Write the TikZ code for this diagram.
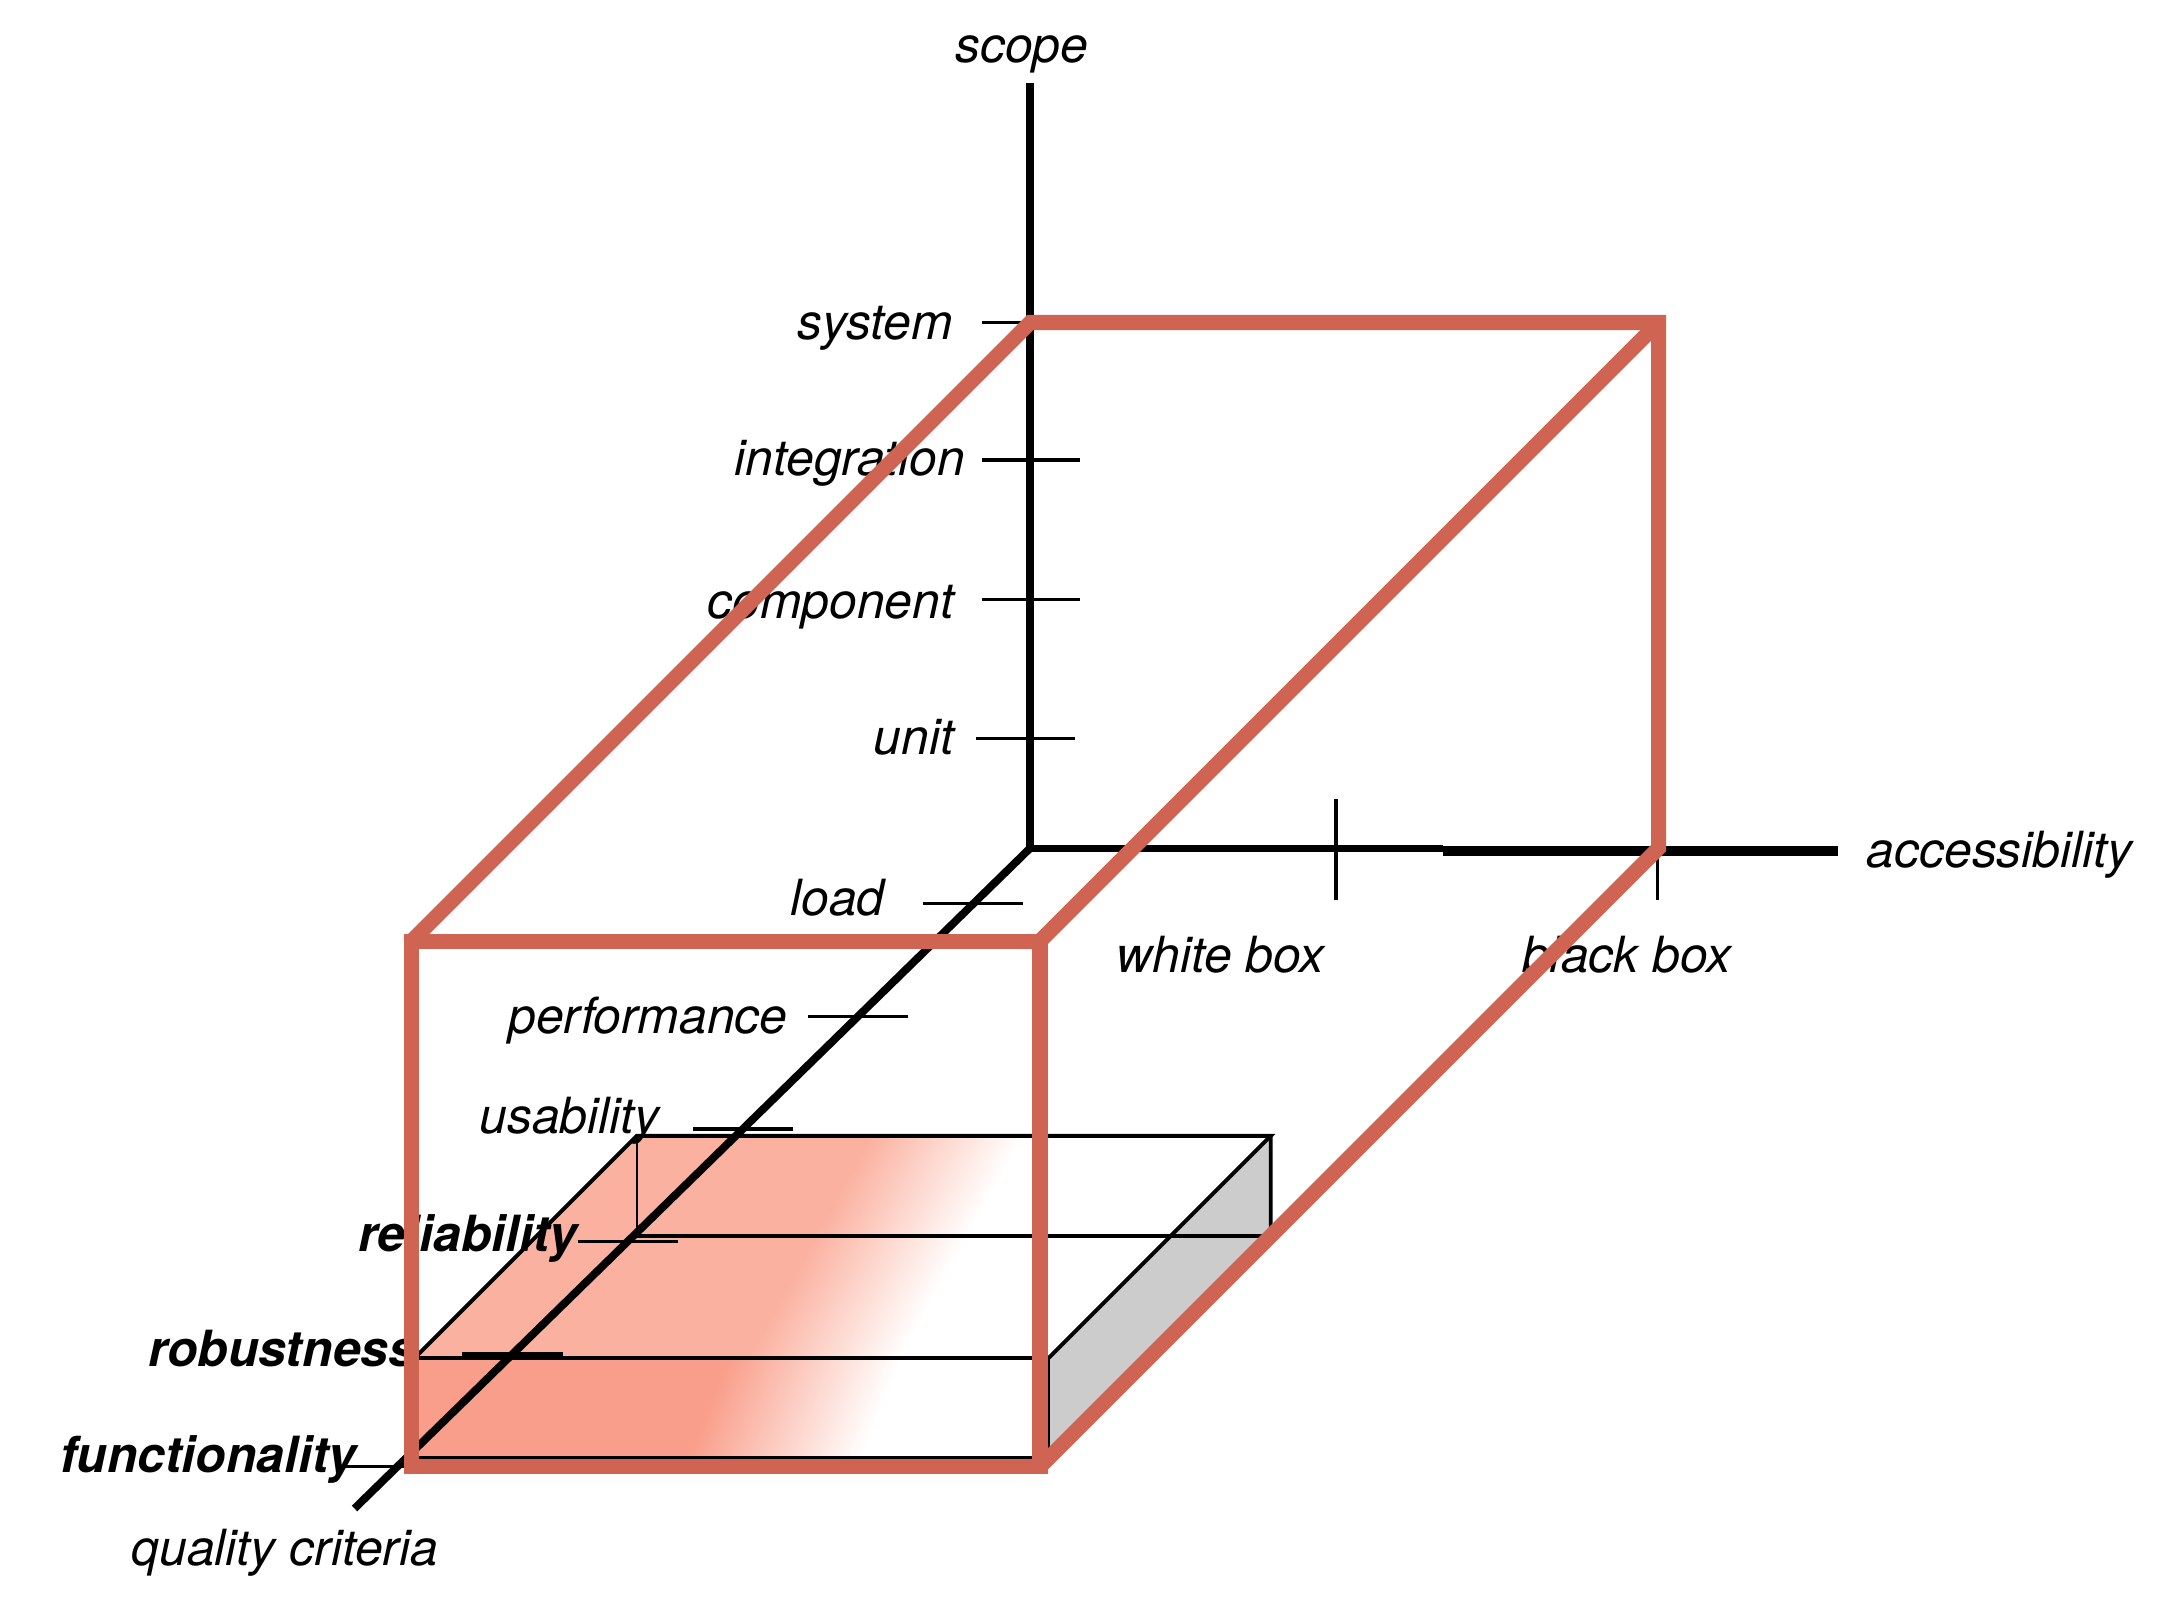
\documentclass[tikz,border=0pt]{standalone}
\usepackage{fontspec}
\setmainfont{TeX Gyre Heros}

\definecolor{cubered}{RGB}{208,100,82}
\definecolor{slabfront}{RGB}{249,158,138}
\definecolor{slabtop}{RGB}{251,177,160}
\definecolor{slabside}{RGB}{204,204,204}

\pgfdeclarehorizontalshading{frontfade}{100bp}{color(0bp)=(slabfront); color(47.1bp)=(slabfront); color(52.9bp)=(white); color(100bp)=(white)}
\pgfdeclarehorizontalshading{topfade}{100bp}{color(0bp)=(slabtop); color(47.6bp)=(slabtop); color(52.4bp)=(white); color(100bp)=(white)}

\tikzset{
  lbl/.style={font=\fontsize{10.2}{12}\selectfont\itshape, inner sep=0pt},
  boldlbl/.style={font=\fontsize{10.2}{12}\selectfont\bfseries\itshape, inner sep=0pt},
  axisline/.style={line width=1.6pt},
  tickline/.style={line width=0.7pt},
  slabedge/.style={line width=0.8pt},
  cubeedge/.style={draw=cubered, line width=3.1pt},
}

\begin{document}
\begin{tikzpicture}
\useasboundingbox (-7.41,-5.48) rectangle (8.27,6.10);

% axes
\coordinate (O) at (0,0);
\coordinate (scopeend) at (0,5.5);
\coordinate (accstep) at (2.97,0);
\coordinate (accstepb) at (2.97,-0.02);
\coordinate (accend) at (5.81,-0.02);
\coordinate (qualend) at (-4.86,-4.75);

% slab corners
\coordinate (s1) at (-4.43,-4.39);
\coordinate (s2) at (0.13,-4.39);
\coordinate (s3) at (0.13,-3.67);
\coordinate (s4) at (-4.43,-3.67);
\coordinate (s5) at (-2.83,-2.79);
\coordinate (s6) at (1.73,-2.79);
\coordinate (s7) at (1.73,-2.07);
\coordinate (s8) at (-2.83,-2.07);

% slab faces
\begin{scope}
  \clip (s4) -- (s8) -- (s7) -- (s3) -- cycle;
  \shade[shading=topfade, shading angle=-29] (-6.04,-7.87) rectangle (3.96,2.13);
\end{scope}
\begin{scope}
  \clip (s1) rectangle (s3);
  \shade[shading=frontfade, shading angle=-22] (-6.70,-9.03) rectangle (3.30,0.97);
\end{scope}
\fill[slabside] (s3) -- (s7) -- (s6) -- (s2) -- cycle;

\draw[slabedge] (s1) -- (s2) -- (s3) -- (s4) -- cycle;
\draw[slabedge] (s4) -- (s8) -- (s7) -- (s3);
\draw[slabedge] (s7) -- (s6) -- (s2);
\draw[slabedge] (s5) -- (s6);
\draw[line width=0.5pt] (s8) -- (s5);

% axes
\draw[axisline] (O) -- (scopeend);
\draw[line width=1.4pt] (O) -- (accstep);
\draw[line width=2pt] (accstepb) -- (accend);
\draw[axisline] (O) -- (qualend);

% ticks
\draw[tickline] (-0.35,3.78) -- (0,3.78);
\foreach \y in {2.79,1.79}
  \draw[tickline] (-0.35,\y) -- (0.36,\y);
\draw[tickline] (-0.39,0.79) -- (0.32,0.79);
\draw[tickline] (2.20,0.35) -- (2.20,-0.37);
\draw[tickline] (4.51,0) -- (4.51,-0.37);
\foreach \t in {0.40,1.21,2.02,2.83,3.64}
  \draw[tickline] ({-1.023*\t-0.36},-\t) -- ++(0.72,0);
\draw[tickline] (-4.94,-4.45) -- (-4.45,-4.45);

% labels
\node[lbl] (scope) at (-0.06,5.71) {scope};
\node[lbl, anchor=east] (system) at (-0.55,3.74) {system};
\node[lbl, anchor=east] (integration) at (-0.46,2.77) {integration};
\node[lbl, anchor=east] (component) at (-0.54,1.73) {component};
\node[lbl, anchor=east] (unit) at (-0.54,0.80) {unit};
\node[lbl, anchor=east] (load) at (-1.04,-0.36) {load};
\node[lbl, anchor=east] (performance) at (-1.74,-1.24) {performance};
\node[lbl, anchor=east] (usability) at (-2.66,-1.96) {usability};
\node[boldlbl, anchor=east] (reliability) at (-3.25,-2.81) {reliability};
\node[boldlbl, anchor=east] (robustness) at (-4.41,-3.60) {robustness};
\node[boldlbl, anchor=east] (functionality) at (-4.84,-4.40) {functionality};
\node[lbl] (quality) at (-5.36,-5.07) {quality criteria};
\node[lbl] (whitebox) at (1.37,-0.77) {white box};
\node[lbl] (blackbox) at (4.29,-0.77) {black box};
\node[lbl, anchor=west] (access) at (6.01,-0.05) {accessibility};

% test cube
\coordinate (f1) at (-4.45,-0.67);
\coordinate (f2) at (0.07,-0.67);
\coordinate (f3) at (0.07,-4.45);
\coordinate (f4) at (-4.45,-4.45);
\coordinate (b1) at (0,3.78);
\coordinate (b2) at (4.52,3.78);
\coordinate (b3) at (4.52,0);
\draw[cubeedge] (f1) -- (f2) -- (f3) -- (f4) -- cycle;
\draw[cubeedge] (f1) -- (b1) -- (b2) -- (b3) -- (f3);
\draw[cubeedge] (f2) -- (b2);
\end{tikzpicture}
\end{document}
